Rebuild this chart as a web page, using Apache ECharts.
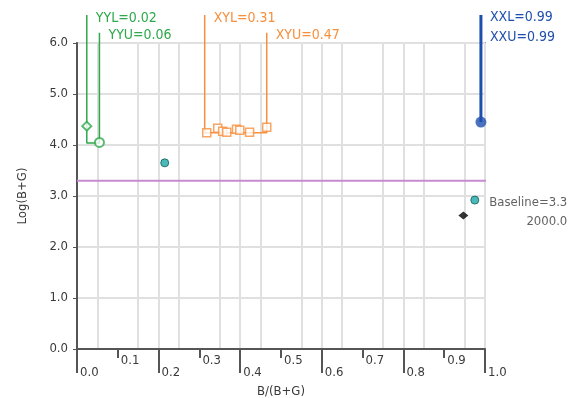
<!DOCTYPE html>
<html lang="en">
<head>
  <meta charset="UTF-8">
  <title>B/(B+G) vs Log(B+G)</title>
  <script src="https://cdn.jsdelivr.net/npm/echarts@6/dist/echarts.min.js"></script>
  <style>
    html, body { margin: 0; padding: 0; background: #fff; }
  </style>
</head>
<body>
  <div id="main" style="width: 580px;height:398px;"></div>
  <script>
    // 轴刻度
    var evenTicks = [0.0, 0.2, 0.4, 0.6, 0.8, 1.0];
    var oddTicks = [0.1, 0.3, 0.5, 0.7, 0.9];

    // YY 限值（线的 x 位置、顶端高度、底边）
    var yyNames = ['YYL', 'YYU'];
    var yyValues = [0.024, 0.055];
    var yyTops = [6.55, 6.2];
    var yyFloor = 4.04;
    var yyPoints = [[0.024, 4.37], [0.055, 4.05]];

    // XY 限值
    var xyNames = ['XYL', 'XYU'];
    var xyValues = [0.313, 0.465];
    var xyTops = [6.55, 6.2];
    var xyFloor = 4.24;
    var xyPoints = [
      [0.318, 4.24], [0.345, 4.33], [0.357, 4.27], [0.367, 4.25],
      [0.391, 4.31], [0.399, 4.29], [0.423, 4.25], [0.465, 4.35]
    ];

    // XX 限值
    var xxNames = ['XXL', 'XXU'];
    var xxValue = 0.99;
    var xxTop = 6.55;
    var xxPoint = [0.99, 4.45];

    // 其他点
    var tealPoints = [[0.215, 3.65], [0.975, 2.92]];
    var blackPoints = [[0.947, 2.62]];

    // 基线
    var baseline = 3.3;
    var baselineEnd = 1.02;
    var baselineNote = '2000.0';

    var FONT = "'Liberation Sans Narrow', 'DejaVu Sans Condensed', sans-serif";
    var GREEN = '#2ea94b';
    var ORANGE = '#f78f3c';
    var BLUE = '#1e4fae';

    function limitLine(names, values, tops, floor, color) {
      var data = [
        { value: [values[0], tops[0]], label: { show: true, formatter: names[0] + '=' + values[0].toFixed(2) } },
        { value: [values[0], floor] },
        { value: [values[1], floor] },
        { value: [values[1], tops[1]], label: { show: true, formatter: names[1] + '=' + values[1].toFixed(2) } }
      ];
      return {
        type: 'line',
        data: data,
        symbol: 'circle', symbolSize: 0, showSymbol: true,
        clip: false,
        lineStyle: { color: color, width: 1.5 },
        itemStyle: { color: color },
        label: {
          show: false, position: 'right', distance: 9, offset: [0, 3],
          color: color, fontSize: 14, fontFamily: FONT
        },
        z: 3
      };
    }

    var myChart = echarts.init(document.getElementById('main'));

    var axisColor = '#555';
    var gridColor = '#e0e0e0';
    var labelColor = '#3a3a3a';

    var option = {
      animation: false,
      grid: {
        left: 77, right: 95, top: 43, bottom: 49,
        outerBoundsMode: 'none',
        show: true, borderColor: axisColor, borderWidth: 1.5
      },
      xAxis: [
        {
          type: 'value', min: 0, max: 1, interval: 0.1, position: 'bottom',
          name: 'B/(B+G)', nameLocation: 'middle', nameGap: 36,
          nameTextStyle: { color: labelColor, fontSize: 13, fontFamily: FONT },
          axisLine: { show: true, lineStyle: { color: axisColor, width: 2 } },
          axisTick: { show: true, customValues: evenTicks, length: 24, lineStyle: { color: axisColor, width: 2 } },
          axisLabel: {
            customValues: evenTicks, margin: 17, align: 'left', padding: [0, 0, 0, 3],
            color: labelColor, fontSize: 13, fontFamily: FONT,
            formatter: function (v) { return v.toFixed(1); }
          },
          splitLine: { show: true, lineStyle: { color: gridColor, width: 2 } },
          minorTick: { show: false, splitNumber: 2 },
          minorSplitLine: { show: true, lineStyle: { color: gridColor, width: 2 } }
        },
        {
          type: 'value', min: 0, max: 1, interval: 0.1, position: 'bottom',
          axisLine: { show: false },
          axisTick: { show: true, customValues: oddTicks, length: 9, lineStyle: { color: axisColor, width: 2 } },
          axisLabel: {
            customValues: oddTicks, margin: 5, align: 'left', padding: [0, 0, 0, 3],
            color: labelColor, fontSize: 13, fontFamily: FONT,
            formatter: function (v) { return v.toFixed(1); }
          },
          splitLine: { show: false }
        }
      ],
      yAxis: {
        type: 'value', min: 0, max: 6, interval: 1,
        name: 'Log(B+G)', nameLocation: 'middle', nameGap: 48,
        nameTextStyle: { color: labelColor, fontSize: 13, fontFamily: FONT },
        axisLine: { show: true, lineStyle: { color: axisColor, width: 2 } },
        axisTick: { show: true, length: 4, lineStyle: { color: axisColor } },
        axisLabel: {
          margin: 9, color: labelColor, fontSize: 13, fontFamily: FONT,
          formatter: function (v) { return v.toFixed(1); }
        },
        splitLine: { show: true, lineStyle: { color: gridColor, width: 2 } }
      },
      series: [
        {
          type: 'line',
          data: [[0, baseline], [baselineEnd, baseline]],
          symbol: 'none', clip: false,
          lineStyle: { color: '#c88ad2', width: 2 },
          z: 2
        },
        limitLine(yyNames, yyValues, yyTops, yyFloor, GREEN),
        {
          type: 'scatter',
          data: yyPoints.map(function (p, i) {
            return { value: p, symbol: i === 0 ? 'emptyDiamond' : 'emptyCircle' };
          }),
          symbolSize: 9,
          itemStyle: { color: GREEN, borderColor: GREEN, borderWidth: 1.5 },
          z: 4
        },
        limitLine(xyNames, xyValues, xyTops, xyFloor, ORANGE),
        {
          type: 'scatter',
          data: xyPoints,
          symbol: 'rect', symbolSize: 8,
          itemStyle: { color: '#fff', borderColor: ORANGE, borderWidth: 1.5 },
          z: 4
        },
        {
          type: 'line',
          data: [
            {
              value: [xxValue, xxTop],
              label: {
                show: true,
                formatter: xxNames[0] + '=' + xxValue.toFixed(2) + '\n' + xxNames[1] + '=' + xxValue.toFixed(2)
              }
            },
            { value: xxPoint }
          ],
          symbol: 'circle', symbolSize: 0, showSymbol: true, clip: false,
          lineStyle: { color: BLUE, width: 3 },
          itemStyle: { color: BLUE },
          label: {
            position: 'right', distance: 9, offset: [0, 12], lineHeight: 20,
            color: BLUE, fontSize: 14, fontFamily: FONT
          },
          z: 3
        },
        {
          type: 'scatter',
          data: [xxPoint],
          symbol: 'circle', symbolSize: 11,
          itemStyle: { color: BLUE },
          z: 4
        },
        {
          type: 'scatter',
          data: tealPoints.map(function (p, i) {
            var item = { value: p };
            if (i === tealPoints.length - 1) {
              item.label = {
                show: true, position: 'right', distance: 10, offset: [0, 12],
                formatter: '{a|Baseline=' + baseline.toFixed(1) + '}\n{b|' + baselineNote + '}',
                rich: {
                  a: { color: labelColor, fontSize: 13, fontFamily: FONT, lineHeight: 19 },
                  b: { color: labelColor, fontSize: 13, fontFamily: FONT, lineHeight: 19, align: 'right' }
                }
              };
            }
            return item;
          }),
          symbol: 'circle', symbolSize: 8,
          itemStyle: { color: '#1fa8a8', borderColor: '#0d5c5c', borderWidth: 1 },
          z: 4
        },
        {
          type: 'scatter',
          data: blackPoints,
          symbol: 'diamond', symbolSize: [10, 8],
          itemStyle: { color: '#000' },
          z: 4
        }
      ]
    };

    myChart.setOption(option);
  </script>
</body>
</html>
